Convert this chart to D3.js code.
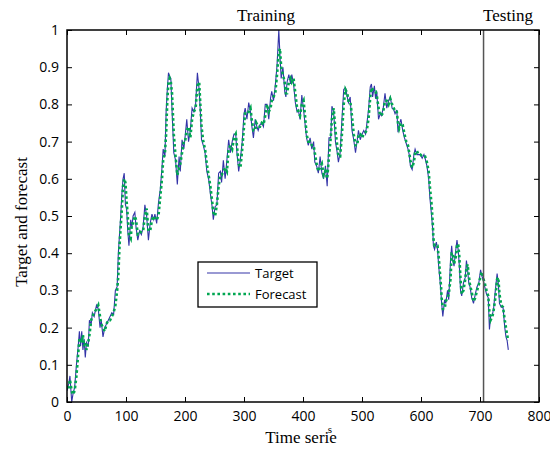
<!DOCTYPE html>
<html>
<head>
<meta charset="utf-8">
<script src="https://cdn.jsdelivr.net/npm/d3@7"></script>
<style>
  body { margin: 0; background: #fff; }
  .tick text { font-family: "Open Sans", sans-serif; font-size: 14px; fill: #000; }
  .lbl { font-family: "Liberation Serif", "Times New Roman", serif; fill: #000; }
</style>
</head>
<body>
<div id="chart"></div>
<script>
(function () {

    // sample times
    var timeSteps = [
        0,3,5,8,10,13,16,19,21,23,
        25,27,29,31,33,36,38,41,43,46,
        50,53,56,58,61,64,67,70,73,76,
        79,82,85,87,89,91,93,95,97,99,
        101,103,105,108,110,112,115,117,120,123,
        126,129,132,135,138,141,144,147,149,152,
        155,158,161,163,166,168,170,172,174,176,
        178,181,184,187,190,192,195,198,200,203,
        206,209,212,215,218,221,224,226,228,231,
        234,237,240,243,246,248,251,254,257,260,
        262,265,268,271,274,277,280,283,286,288,
        291,294,297,300,302,305,308,311,313,316,
        319,321,324,327,330,333,336,339,342,345,
        347,350,353,356,359,361,363,366,369,371,
        373,376,379,381,384,387,390,392,395,398,
        401,404,406,409,412,415,418,420,423,426,
        429,432,435,438,441,444,447,449,452,455,
        458,460,463,466,469,472,475,477,480,483,
        486,489,492,494,497,500,503,506,508,511,
        514,516,518,521,523,525,528,531,533,536,
        539,542,545,548,551,554,556,559,561,563,
        566,569,572,575,578,580,582,585,588,590,
        593,596,599,602,605,607,610,613,615,618,
        620,621,623,626,628,630,632,634,635,637,
        640,642,645,647,650,652,654,656,659,661,
        663,665,667,669,672,675,677,679,681,683,
        686,689,692,695,698,701,703,705,708,711,
        714,716,718,721,723,726,729,731,733,736,
        739,742,744,746,748
    ];

    var target = [
        .03,.05,.07,0,.02,.04,.1,.15,.19,.15,
        .19,.14,.17,.12,.16,.15,.22,.21,.24,.23,
        .26,.25,.2,.22,.175,.2,.21,.22,.23,.24,
        .235,.3,.31,.4,.45,.5,.56,.6,.615,.53,
        .52,.46,.42,.49,.47,.5,.51,.47,.435,.46,
        .45,.47,.53,.5,.435,.48,.505,.49,.505,.48,
        .535,.57,.63,.68,.66,.78,.84,.885,.875,.87,
        .785,.67,.65,.585,.66,.62,.705,.68,.71,.76,
        .7,.73,.79,.78,.8,.885,.84,.78,.705,.69,
        .67,.62,.6,.56,.525,.49,.525,.53,.615,.62,
        .59,.65,.6,.65,.705,.67,.7,.72,.72,.67,
        .62,.655,.7,.775,.79,.76,.805,.78,.745,.71,
        .76,.745,.73,.745,.75,.74,.8,.8,.76,.817,
        .835,.81,.85,.905,1,.93,.87,.9,.835,.82,
        .86,.88,.855,.88,.855,.805,.78,.785,.76,.825,
        .785,.74,.71,.69,.71,.68,.7,.645,.635,.615,
        .66,.615,.6,.635,.58,.71,.71,.795,.78,.7,
        .67,.645,.67,.76,.84,.845,.82,.805,.82,.73,
        .705,.67,.705,.73,.705,.72,.73,.72,.745,.785,
        .847,.855,.82,.85,.815,.835,.76,.775,.77,.79,
        .83,.79,.81,.82,.79,.785,.775,.785,.725,.745,
        .76,.73,.71,.695,.68,.665,.635,.625,.665,.68,
        .665,.665,.665,.655,.665,.655,.635,.6,.55,.5,
        .46,.42,.41,.43,.41,.365,.33,.29,.265,.23,
        .275,.265,.3,.275,.38,.42,.38,.365,.41,.435,
        .41,.365,.3,.285,.32,.335,.38,.355,.32,.31,
        .28,.265,.29,.31,.32,.355,.34,.33,.31,.29,
        .28,.195,.23,.235,.25,.3,.345,.32,.265,.255,
        .255,.2,.175,.165,.14
    ];

    var forecast = [
        .04,.04,.06,.03,.02,.03,.07,.13,.17,.17,
        .16,.18,.15,.16,.14,.16,.18,.22,.23,.24,
        .25,.26,.23,.21,.2,.19,.21,.22,.22,.23,
        .24,.26,.3,.34,.42,.47,.52,.58,.6,.59,
        .54,.5,.45,.44,.48,.48,.5,.49,.45,.45,
        .46,.46,.5,.52,.46,.46,.49,.5,.49,.49,
        .5,.55,.6,.65,.67,.72,.81,.86,.87,.86,
        .83,.72,.66,.61,.63,.64,.67,.7,.7,.73,
        .74,.71,.76,.78,.79,.85,.86,.8,.74,.7,
        .68,.64,.61,.58,.54,.51,.5,.53,.58,.61,
        .61,.62,.63,.62,.68,.69,.68,.71,.72,.69,
        .64,.63,.68,.74,.78,.78,.78,.79,.76,.73,
        .73,.75,.74,.74,.75,.745,.77,.8,.78,.79,
        .81,.82,.83,.88,.94,.95,.9,.88,.86,.83,
        .83,.86,.87,.86,.87,.83,.79,.78,.77,.8,
        .81,.76,.72,.7,.7,.69,.69,.67,.64,.62,
        .63,.64,.61,.62,.6,.66,.71,.76,.79,.73,
        .69,.66,.66,.72,.8,.84,.83,.81,.81,.77,
        .72,.69,.69,.72,.72,.71,.72,.725,.73,.76,
        .82,.845,.84,.835,.835,.825,.79,.77,.77,.78,
        .81,.81,.8,.815,.8,.79,.78,.78,.75,.735,
        .75,.745,.72,.7,.69,.67,.65,.63,.645,.67,
        .675,.665,.665,.66,.66,.66,.645,.62,.58,.53,
        .48,.44,.42,.42,.42,.39,.35,.31,.28,.25,
        .25,.27,.28,.29,.33,.4,.4,.37,.39,.42,
        .425,.39,.33,.29,.3,.33,.36,.37,.34,.315,
        .295,.27,.28,.3,.315,.34,.35,.335,.32,.3,
        .285,.24,.22,.23,.245,.28,.33,.335,.29,.26,
        .255,.22,.2,.18,.165
    ];

    var xTicks = [0, 100, 200, 300, 400, 500, 600, 700, 800];
    var yTicks = [0, 0.1, 0.2, 0.3, 0.4, 0.5, 0.6, 0.7, 0.8, 0.9, 1];
    var splitAt = 706;   // training / testing boundary

    var w = 550, h = 454;
    var left = 67, right = 539, top = 30, bottom = 402;

    var svg = d3.select('#chart')
        .append('svg')
            .attr('width', w)
            .attr('height', h);

    var x = d3.scaleLinear().domain([0, 800]).range([left, right]);
    var y = d3.scaleLinear().domain([0, 1]).range([bottom, top]);

    // axes, ticks pointing inwards on all four sides
    function fmt(d) { return d3.format('')(d); }

    svg.append('g')
        .attr('transform', 'translate(0,' + bottom + ')')
        .call(d3.axisBottom(x).tickValues(xTicks).tickSizeInner(-5).tickSizeOuter(0).tickPadding(9).tickFormat(fmt));
    svg.append('g')
        .attr('transform', 'translate(0,' + top + ')')
        .call(d3.axisTop(x).tickValues(xTicks).tickSizeInner(-5).tickSizeOuter(0).tickFormat(''));
    svg.append('g')
        .attr('transform', 'translate(' + left + ',0)')
        .call(d3.axisLeft(y).tickValues(yTicks).tickSizeInner(-5).tickSizeOuter(0).tickPadding(8).tickFormat(fmt));
    svg.append('g')
        .attr('transform', 'translate(' + right + ',0)')
        .call(d3.axisRight(y).tickValues(yTicks).tickSizeInner(-5).tickSizeOuter(0).tickFormat(''));

    svg.selectAll('.domain').remove();
    svg.selectAll('.tick line').attr('stroke', '#000').attr('stroke-width', 1);

    var line = d3.line()
        .x(function (d) { return x(d[0]); })
        .y(function (d) { return y(d[1]); });

    var clip = svg.append('clipPath').attr('id', 'plotclip')
        .append('rect')
            .attr('x', left).attr('y', top - 2)
            .attr('width', right - left).attr('height', bottom - top + 2);

    var plot = svg.append('g').attr('clip-path', 'url(#plotclip)');

    plot.append('path')
        .datum(d3.zip(timeSteps, target))
        .attr('d', line)
        .attr('fill', 'none')
        .attr('stroke', '#3434a8')
        .attr('stroke-width', 1.1);

    plot.append('path')
        .datum(d3.zip(timeSteps, forecast))
        .attr('d', line)
        .attr('fill', 'none')
        .attr('stroke', '#00a651')
        .attr('stroke-width', 2.6)
        .attr('stroke-dasharray', '2.6,2.6');

    // training / testing split
    svg.append('line')
        .attr('x1', x(splitAt)).attr('x2', x(splitAt))
        .attr('y1', top).attr('y2', bottom)
        .attr('stroke', '#555')
        .attr('stroke-width', 1.5);

    // frame
    svg.append('rect')
        .attr('x', left).attr('y', top)
        .attr('width', right - left).attr('height', bottom - top)
        .attr('fill', 'none')
        .attr('stroke', '#000')
        .attr('stroke-width', 1.5);

    // legend
    var lg = svg.append('g').attr('transform', 'translate(198,262)');
    lg.append('rect')
        .attr('width', 119).attr('height', 45)
        .attr('fill', '#fff').attr('stroke', '#000').attr('stroke-width', 1.3);
    lg.append('line')
        .attr('x1', 9).attr('x2', 52).attr('y1', 11).attr('y2', 11)
        .attr('stroke', '#3434a8').attr('stroke-width', 1.1);
    lg.append('line')
        .attr('x1', 9).attr('x2', 52).attr('y1', 32).attr('y2', 32)
        .attr('stroke', '#00a651').attr('stroke-width', 2.6).attr('stroke-dasharray', '2.6,2.6');
    lg.selectAll('text')
        .data(['Target', 'Forecast'])
        .enter()
        .append('text')
        .text(function (d) { return d; })
        .attr('x', 57)
        .attr('y', function (d, i) { return 16 + i * 21; })
        .style('font-family', '"Open Sans", sans-serif')
        .style('font-size', '13px');

    // labels
    svg.append('text').attr('class', 'lbl')
        .attr('x', 266).attr('y', 21)
        .attr('text-anchor', 'middle').style('font-size', '17px')
        .text('Training');
    svg.append('text').attr('class', 'lbl')
        .attr('x', 508).attr('y', 21)
        .attr('text-anchor', 'middle').style('font-size', '17px')
        .text('Testing');
    svg.append('text').attr('class', 'lbl')
        .attr('x', 301).attr('y', 443)
        .attr('text-anchor', 'middle').style('font-size', '17px')
        .text('Time serie');
    svg.append('text').attr('class', 'lbl')
        .attr('x', 330).attr('y', 433)
        .attr('text-anchor', 'middle').style('font-size', '11px')
        .text('s');
    svg.append('text').attr('class', 'lbl')
        .attr('transform', 'translate(27,222) rotate(-90)')
        .attr('text-anchor', 'middle').style('font-size', '17px')
        .text('Target and forecast');

})();
</script>
</body>
</html>
